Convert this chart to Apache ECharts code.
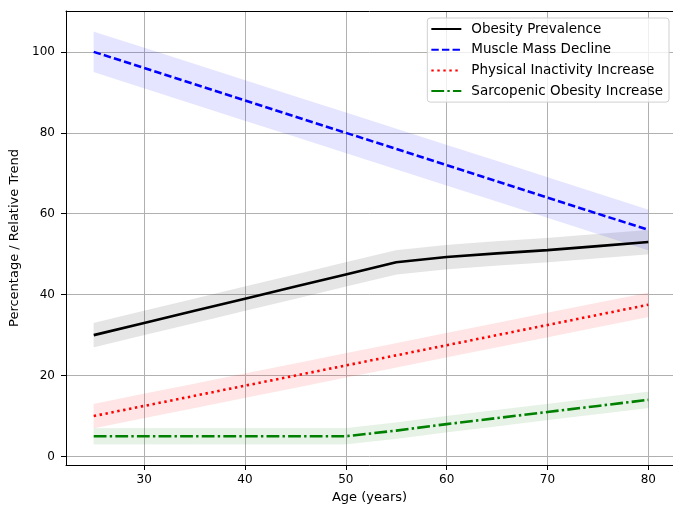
<!DOCTYPE html>
<html>
<head>
<meta charset="utf-8">
<script src="https://cdn.jsdelivr.net/npm/echarts@6/dist/echarts.min.js"></script>
<style>
html,body{margin:0;padding:0;background:#fff;}
#chart{width:673px;height:509px;}
</style>
</head>
<body>
<div id="chart"></div>
<script>
// data
var ages = [25, 30, 35, 40, 45, 50, 55, 60, 65, 70, 75, 80];
var obesity = [30, 33, 36, 39, 42, 45, 48, 49.3, 50.2, 51, 52, 53];
var muscle = [100, 96, 92, 88, 84, 80, 76, 72, 68, 64, 60, 56];
var inactivity = [10, 12.5, 15, 17.5, 20, 22.5, 25, 27.5, 30, 32.5, 35, 37.5];
var sarcopenic = [5, 5, 5, 5, 5, 5, 6.4, 8, 9.5, 11, 12.5, 14];
var bandWidth = {obesity: 3, muscle: 5, inactivity: 3, sarcopenic: 2};
var xTicks = [30, 40, 50, 60, 70, 80];
var yTicks = [0, 20, 40, 60, 80, 100];

var font = 'DejaVu Sans';
var xMin = 22.25, xMax = 82.45;

function pairs(vals){
    return ages.map(function(a, i){ return [a, vals[i]]; });
}

// shaded band (value +- width) as one polygon, drawn through the axes
function band(key, vals, color){
    var w = bandWidth[key];
    var rows = ages.map(function(a, i){ return [a, vals[i] - w, vals[i] + w]; });
    return {
        name: '_' + key + '_band',
        type: 'custom',
        data: rows,
        silent: true,
        z: 1,
        renderItem: function(params, api){
            if (params.dataIndex !== 0) return;
            var top = rows.map(function(r){ return api.coord([r[0], r[2]]); });
            var bot = rows.map(function(r){ return api.coord([r[0], r[1]]); }).reverse();
            return {
                type: 'polygon',
                shape: {points: top.concat(bot)},
                style: {fill: color, opacity: 0.1, stroke: color, lineWidth: 1, strokeOpacity: 0.15}
            };
        }
    };
}

function mainLine(name, vals, color, dash){
    return {
        name: name,
        type: 'line',
        data: pairs(vals),
        symbol: 'none',
        itemStyle: {color: color},
        lineStyle: {color: color, width: 2.6, type: dash, cap: 'butt'},
        z: 3
    };
}

var series = [
    band('obesity', obesity, '#000000'),
    mainLine('Obesity Prevalence', obesity, '#000000', 'solid'),
    band('muscle', muscle, '#0000ff'),
    mainLine('Muscle Mass Decline', muscle, '#0000ff', [7.4, 3.2]),
    band('inactivity', inactivity, '#ff0000'),
    mainLine('Physical Inactivity Increase', inactivity, '#ff0000', [2.4, 3.6]),
    band('sarcopenic', sarcopenic, '#008000'),
    mainLine('Sarcopenic Obesity Increase', sarcopenic, '#008000', [12.8, 3.2, 2.4, 3.2])
];

var chart = echarts.init(document.getElementById('chart'));
chart.setOption({
    backgroundColor: '#fff',
    animation: false,
    grid: {left: 66, right: 0, top: 11, bottom: 42},
    legend: {
        data: ['Obesity Prevalence', 'Muscle Mass Decline', 'Physical Inactivity Increase', 'Sarcopenic Obesity Increase'],
        orient: 'vertical',
        right: 4,
        top: 18,
        itemWidth: 30,
        itemHeight: 14,
        itemGap: 6.7,
        padding: [4, 6, 4, 3],
        backgroundColor: 'rgba(255,255,255,0.8)',
        borderColor: '#d0d0d0',
        borderWidth: 1,
        borderRadius: 3,
        itemStyle: {opacity: 0},
        textStyle: {fontFamily: font, fontSize: 13.5, color: '#000', padding: [0, 0, 0, 5]}
    },
    xAxis: [{
        type: 'value',
        min: xMin,
        max: xMax,
        name: 'Age (years)',
        nameLocation: 'middle',
        nameGap: 26,
        nameTextStyle: {fontFamily: font, fontSize: 13, color: '#000'},
        axisLine: {show: true, onZero: false, lineStyle: {color: '#000', width: 1}},
        axisTick: {show: true, length: 5, lineStyle: {color: '#000'}, customValues: xTicks},
        axisLabel: {margin: 9, fontFamily: font, fontSize: 12, color: '#000', customValues: xTicks},
        splitLine: {show: true, lineStyle: {color: '#b0b0b0', width: 1}}
    }, {
        type: 'value',
        position: 'top',
        min: xMin,
        max: xMax,
        axisLine: {show: true, onZero: false, lineStyle: {color: '#000', width: 1}},
        axisTick: {show: false},
        axisLabel: {show: false},
        splitLine: {show: false}
    }],
    yAxis: {
        type: 'value',
        min: -2.1,
        max: 110.1,
        name: 'Percentage / Relative Trend',
        nameLocation: 'middle',
        nameGap: 43,
        nameTextStyle: {fontFamily: font, fontSize: 13, color: '#000'},
        axisLine: {show: true, onZero: false, lineStyle: {color: '#000', width: 1}},
        axisTick: {show: true, length: 5, lineStyle: {color: '#000'}, customValues: yTicks},
        axisLabel: {margin: 11, fontFamily: font, fontSize: 12, color: '#000', customValues: yTicks},
        splitLine: {show: true, lineStyle: {color: '#b0b0b0', width: 1}}
    },
    series: series
});
</script>
</body>
</html>
